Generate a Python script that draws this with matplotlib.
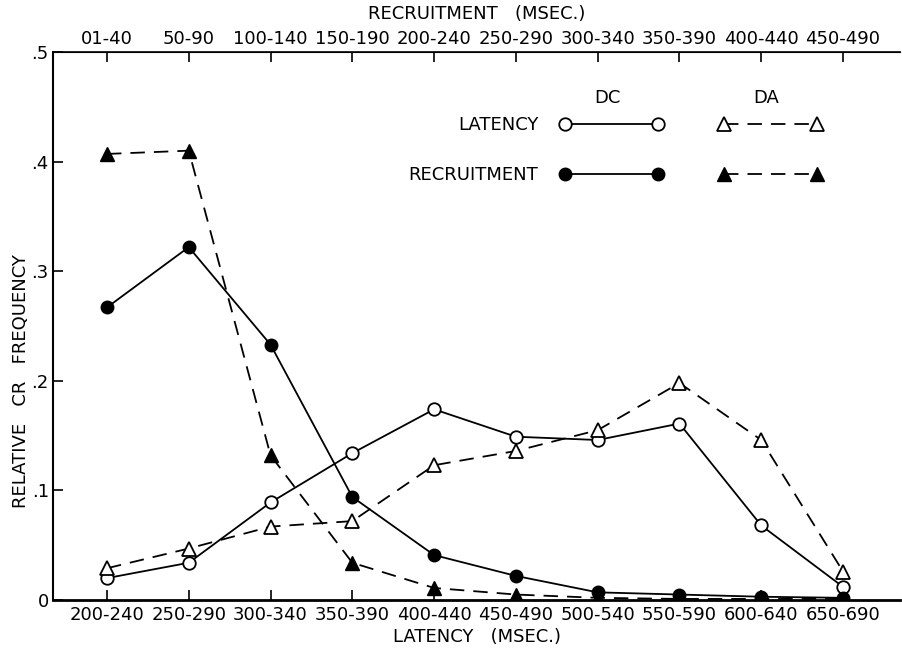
import numpy as np
import matplotlib
matplotlib.use("Agg")
import matplotlib.pyplot as plt

# Bin labels for the two x axes
latency_bins = ["200-240", "250-290", "300-340", "350-390", "400-440",
                "450-490", "500-540", "550-590", "600-640", "650-690"]
recruit_bins = ["01-40", "50-90", "100-140", "150-190", "200-240",
                "250-290", "300-340", "350-390", "400-440", "450-490"]

# Relative CR frequency
dc_latency = [0.020, 0.034, 0.089, 0.134, 0.174, 0.149, 0.146, 0.161, 0.068, 0.012]
da_latency = [0.029, 0.047, 0.067, 0.072, 0.123, 0.136, 0.155, 0.198, 0.146, 0.026]
dc_recruit = [0.267, 0.322, 0.233, 0.094, 0.041, 0.022, 0.007, 0.005, 0.003, 0.002]
da_recruit = [0.407, 0.410, 0.132, 0.034, 0.011, 0.005, 0.002, 0.001, 0.001, 0.001]

x = np.arange(len(latency_bins))
FS = 13

fig = plt.figure(figsize=(9.03, 6.51), dpi=100)
ax = fig.add_axes([0.0587, 0.0783, 0.9383, 0.8418])

lw = 1.3
l_dc_lat, = ax.plot(x, dc_latency, "-", color="black", lw=lw, marker="o", ms=9,
                    mfc="white", mec="black", mew=1.3)
l_da_lat, = ax.plot(x, da_latency, "--", color="black", lw=lw, marker="^", ms=10,
                    mfc="white", mec="black", mew=1.3, dashes=(8, 5))
l_dc_rec, = ax.plot(x, dc_recruit, "-", color="black", lw=lw, marker="o", ms=9,
                    mfc="black", mec="black")
l_da_rec, = ax.plot(x, da_recruit, "--", color="black", lw=lw, marker="^", ms=10,
                    mfc="black", mec="black", dashes=(8, 5))

ax.set_xlim(-0.66, 9.70)
ax.set_ylim(0, 0.5)
ax.set_xticks(x)
ax.set_xticklabels(latency_bins, fontsize=FS)
ax.set_yticks([0, 0.1, 0.2, 0.3, 0.4, 0.5])
ax.set_yticklabels(["0", ".1", ".2", ".3", ".4", ".5"], fontsize=FS)
ax.tick_params(axis="both", direction="in", length=7, width=1.2, pad=3)
ax.tick_params(axis="x", pad=4)
ax.spines["right"].set_visible(False)
ax.spines["bottom"].set_linewidth(2)
ax.spines["left"].set_linewidth(1.5)
ax.spines["top"].set_linewidth(1.2)

ax.set_xlabel("LATENCY   (MSEC.)", fontsize=FS, labelpad=3)
ax.set_ylabel("RELATIVE   CR   FREQUENCY", fontsize=FS)
ax.yaxis.set_label_coords(-0.027, 0.40)

top = ax.secondary_xaxis("top")
top.set_xticks(x)
top.set_xticklabels(recruit_bins, fontsize=FS)
top.tick_params(direction="in", length=7, width=1.2, pad=3)
top.set_xlabel("RECRUITMENT   (MSEC.)", fontsize=FS, labelpad=8)

# legend: rows are LATENCY / RECRUITMENT, columns DC / DA
handles = [l_dc_lat, l_dc_rec, l_da_lat, l_da_rec]
labels = ["LATENCY", "RECRUITMENT", "", ""]
ax.legend(handles, labels, ncol=2, markerfirst=False, frameon=False,
          numpoints=2, handlelength=5.75, handletextpad=1.2, columnspacing=1.85,
          labelspacing=1.78, fontsize=FS, borderpad=0, borderaxespad=0,
          loc="upper left", bbox_to_anchor=(0.4195, 0.883))
ax.text(0.654, 0.916, "DC", transform=ax.transAxes, fontsize=FS,
        ha="center", va="center")
ax.text(0.842, 0.916, "DA", transform=ax.transAxes, fontsize=FS,
        ha="center", va="center")

fig.savefig("out.png", dpi=100)
